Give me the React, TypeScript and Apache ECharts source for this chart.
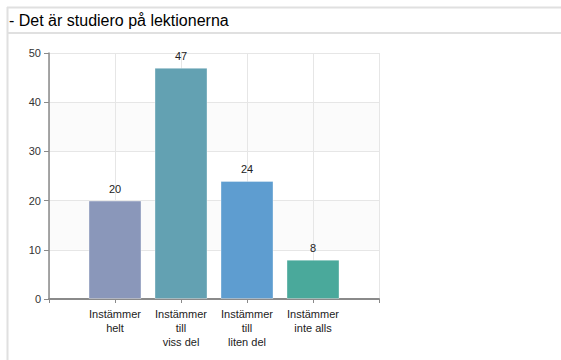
import React, { useEffect, useRef } from "react";
import * as echarts from "echarts";

const titleText = "- Det är studiero på lektionerna";
const categories = ["", "Instämmer\nhelt", "Instämmer\ntill\nviss del", "Instämmer\ntill\nliten del", "Instämmer\ninte alls", ""];
const values = [null, 20, 47, 24, 8, null];
const barColors = ["#8a97ba", "#63a1b2", "#5e9dd0", "#4aa99b"];
const yTicks = { min: 0, max: 50, interval: 10 };

export default function App() {
  const ref = useRef<HTMLDivElement>(null);
  useEffect(() => {
    if (!ref.current) return;
    const chart = echarts.init(ref.current, undefined, { renderer: "svg" });
    chart.setOption({
      animation: false,
      backgroundColor: "#ffffff",
      textStyle: { fontFamily: "Arial, 'Liberation Sans', sans-serif" },
      graphic: [
        { type: "line", shape: { x1: 7, y1: 7.5, x2: 561, y2: 7.5 }, style: { stroke: "#e0e0e0", lineWidth: 2 } },
        { type: "line", shape: { x1: 7, y1: 33, x2: 561, y2: 33 }, style: { stroke: "#e0e0e0", lineWidth: 2 } },
        { type: "line", shape: { x1: 7.5, y1: 7, x2: 7.5, y2: 360 }, style: { stroke: "#e0e0e0", lineWidth: 2 } },
        {
          type: "text",
          left: 9,
          top: 12,
          style: { text: titleText, fontSize: 16, fill: "#000", fontFamily: "Arial, 'Liberation Sans', sans-serif" },
        },
      ],
      grid: { left: 49, top: 53, width: 330, height: 246, containLabel: false },
      xAxis: {
        type: "category",
        data: categories,
        boundaryGap: false,
        axisLine: { lineStyle: { color: "#8a8a8a", width: 2 } },
        axisTick: { show: true, alignWithLabel: true, length: 4, lineStyle: { color: "#8a8a8a" } },
        axisLabel: { color: "#222", fontSize: 11, lineHeight: 14, interval: 0, margin: 8 },
        splitLine: { show: true, lineStyle: { color: "#e6e6e6", width: 1 } },
      },
      yAxis: {
        type: "value",
        min: yTicks.min,
        max: yTicks.max,
        interval: yTicks.interval,
        axisLine: { show: true, lineStyle: { color: "#8a8a8a", width: 1.5 } },
        axisTick: { show: true, length: 5, lineStyle: { color: "#8a8a8a" } },
        axisLabel: { color: "#333", fontSize: 11, margin: 8 },
        splitLine: { show: true, lineStyle: { color: "#e6e6e6", width: 1 } },
        splitArea: { show: true, areaStyle: { color: ["rgba(255,255,255,0)", "#fbfbfb"] } },
      },
      series: [
        {
          type: "bar",
          barWidth: 53,
          data: values.map((v, i) =>
            v == null
              ? null
              : {
                  value: v,
                  itemStyle: {
                    color: barColors[i - 1],
                    borderColor: "rgba(255,255,255,0.35)",
                    borderWidth: 1,
                  },
                }
          ),
          label: { show: true, position: "top", distance: 6, color: "#222", fontSize: 11 },
        },
      ],
    });
    return () => chart.dispose();
  }, []);
  return <div ref={ref} style={{ position: "fixed", left: 0, top: 0, width: 561, height: 360 }} />;
}
